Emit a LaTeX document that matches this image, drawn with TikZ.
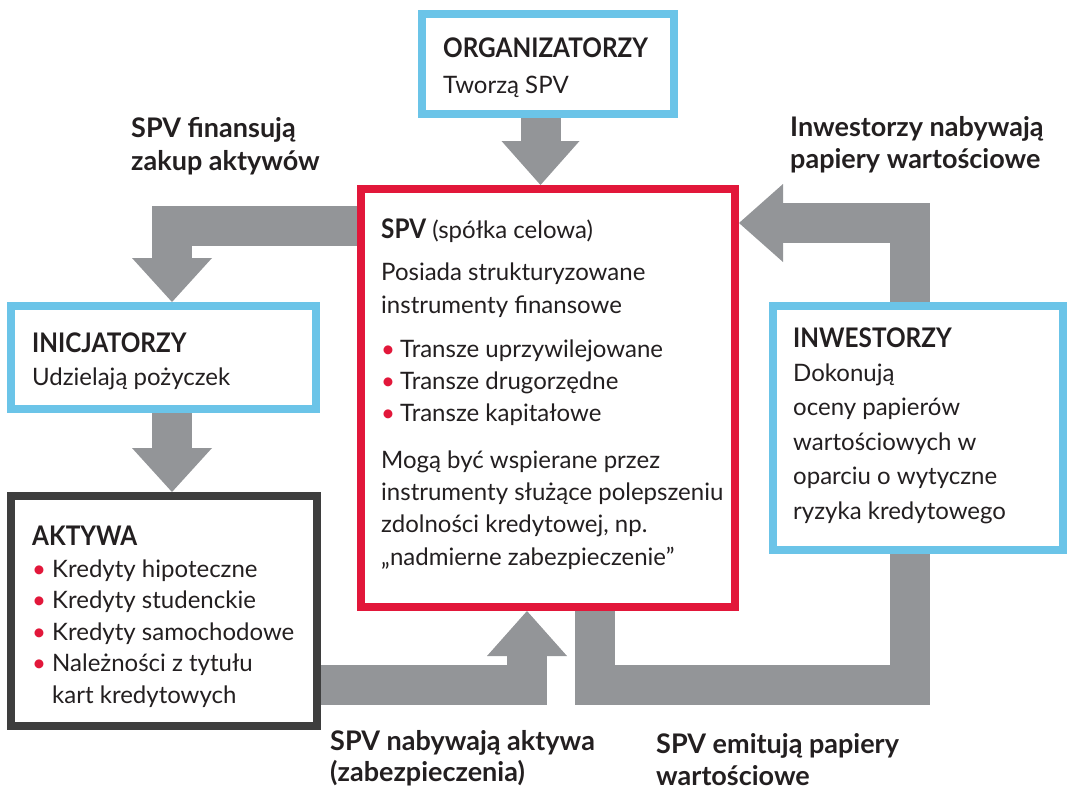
\documentclass[tikz,border=0pt]{standalone}
\usepackage{fontspec}
\setmainfont{Lato}
\newfontfamily\ttlfam{Lato}[FakeStretch=0.9]
\usetikzlibrary{calc}
\definecolor{boxblue}{HTML}{6BC4E8}
\definecolor{spvred}{HTML}{E2173A}
\definecolor{flowgray}{HTML}{939598}
\definecolor{darkbox}{HTML}{3E3E3E}
\definecolor{ink}{HTML}{231F20}
\newcommand{\bodysize}[1]{\fontsize{24}{#1}\selectfont}
\newcommand{\ttlsize}[1]{\fontsize{27}{#1}\selectfont\bfseries}
\newcommand{\capsize}[1]{\ttlfam\fontsize{27}{#1}\selectfont\bfseries}
\newcommand{\redbul}{\makebox[19pt][l]{\textcolor{spvred}{•}}}
\newcommand{\redbulw}{\makebox[20pt][l]{\textcolor{spvred}{•}}}
\begin{document}
\begin{tikzpicture}[x=1pt,y=-1pt,
  boxframe/.style={rectangle, line width=8pt, fill=white, inner sep=0pt, outer sep=4pt, anchor=north west},
  flowband/.style={draw=flowgray, line width=40pt, line join=miter, line cap=butt},
  flowhead/.style={fill=flowgray},
  ttl/.style={font=\ttlsize{#1}, text=ink, anchor=base west, inner sep=0pt, align=left},
  cap/.style={font=\capsize{#1}, text=ink, anchor=base west, inner sep=0pt, align=left},
  txt/.style={font=\bodysize{#1}, text=ink, anchor=base west, inner sep=0pt, align=left},
]
\useasboundingbox (0,0) rectangle (1070,787);

% boxes
\node[boxframe, draw=boxblue, minimum width=252pt, minimum height=100pt] (org) at (418,10) {};
\node[boxframe, draw=spvred, minimum width=374pt, minimum height=418pt] (spv) at (357,185) {};
\node[boxframe, draw=boxblue, minimum width=305pt, minimum height=103pt] (inic) at (7,302) {};
\node[boxframe, draw=darkbox, minimum width=306pt, minimum height=230pt] (akt) at (7,492) {};
\node[boxframe, draw=boxblue, minimum width=290pt, minimum height=244pt] (inw) at (769,302) {};

% lanes
\coordinate (laneOrg) at (540.5,0);
\coordinate (laneIni) at (172,0);
\coordinate (rowFin) at (0,225.5);
\coordinate (laneAkt) at (527,0);
\coordinate (rowLow) at (0,685);
\coordinate (laneEmi) at (595,0);
\coordinate (laneInw) at (910,0);
\coordinate (rowInw) at (0,223);

% ORG -> SPV
\coordinate (tipA) at (spv.north -| laneOrg);
\draw[flowband] (org.south -| laneOrg) -- ($(tipA)+(0,-40)$);
\fill[flowhead] (tipA) -- ++(-39,-44) -- ++(78,0) -- cycle;

% SPV -> INIC
\coordinate (tipB) at (inic.north -| laneIni);
\draw[flowband] (spv.west |- rowFin) -- (laneIni |- rowFin) -- ($(tipB)+(0,-40)$);
\fill[flowhead] (tipB) -- ++(-40,-44) -- ++(80,0) -- cycle;

% INIC -> AKT
\coordinate (tipC) at (akt.north -| laneIni);
\draw[flowband] (inic.south -| laneIni) -- ($(tipC)+(0,-40)$);
\fill[flowhead] (tipC) -- ++(-40,-44) -- ++(80,0) -- cycle;

% AKT -> SPV
\coordinate (tipD) at (spv.south -| laneAkt);
\draw[flowband] (akt.east |- rowLow) -- (laneAkt |- rowLow) -- ($(tipD)+(0,40)$);
\fill[flowhead] (tipD) -- ++(-40,45) -- ++(80,0) -- cycle;

% SPV -> INW
\draw[flowband] (spv.south -| laneEmi) -- (laneEmi |- rowLow) -- (laneInw |- rowLow) -- (inw.south -| laneInw);

% INW -> SPV
\coordinate (tipF) at (spv.east |- rowInw);
\draw[flowband] (inw.north -| laneInw) -- (laneInw |- rowInw) -- ($(tipF)+(40,0)$);
\fill[flowhead] (tipF) -- ++(44,-39) -- ++(0,78) -- cycle;

% texts (multi-line nodes are placed at the baseline of their last line)
\node[cap=32] (orgT) at (443,57) {ORGANIZATORZY};
\node[txt=32] (orgB) at (443,93) {Tworzą SPV};

\node[txt=32] (spvT) at (381,238) {{\capsize{32}SPV} (spółka celowa)};
\node[txt=33] (spvB1) at (381,313) {Posiada strukturyzowane\\instrumenty finansowe};
\node[txt=32] (spvL) at (381,421) {\redbul Transze uprzywilejowane\\\redbul Transze drugorzędne\\\redbul Transze kapitałowe};
\node[txt=32.3] (spvB2) at (381,565) {Mogą być wspierane przez\\instrumenty służące polepszeniu\\zdolności kredytowej, np.\\„nadmierne zabezpieczenie”};

\node[cap=32] (inicT) at (32,352) {INICJATORZY};
\node[txt=32] (inicB) at (32,385) {Udzielają pożyczek};

\node[cap=32] (aktT) at (32,545) {AKTYWA};
\node[txt=31.5] (aktL) at (32,703) {\redbulw Kredyty hipoteczne\\\redbulw Kredyty studenckie\\\redbulw Kredyty samochodowe\\\redbulw Należności z tytułu\\\hspace*{20pt}kart kredytowych};

\node[cap=32] (inwT) at (793,347) {INWESTORZY};
\node[txt=34.5] (inwB) at (793,519) {Dokonują\\oceny papierów\\wartościowych w\\oparciu o wytyczne\\ryzyka kredytowego};

\node[ttl=33] (lblFin) at (131,170) {SPV finansują\\zakup aktywów};
\node[ttl=32] (lblInw) at (790,168) {Inwestorzy nabywają\\papiery wartościowe};
\node[ttl=31] (lblAkt) at (330,781) {SPV nabywają aktywa\\(zabezpieczenia)};
\node[ttl=32] (lblEmi) at (656,785) {SPV emitują papiery\\wartościowe};
\end{tikzpicture}
\end{document}
